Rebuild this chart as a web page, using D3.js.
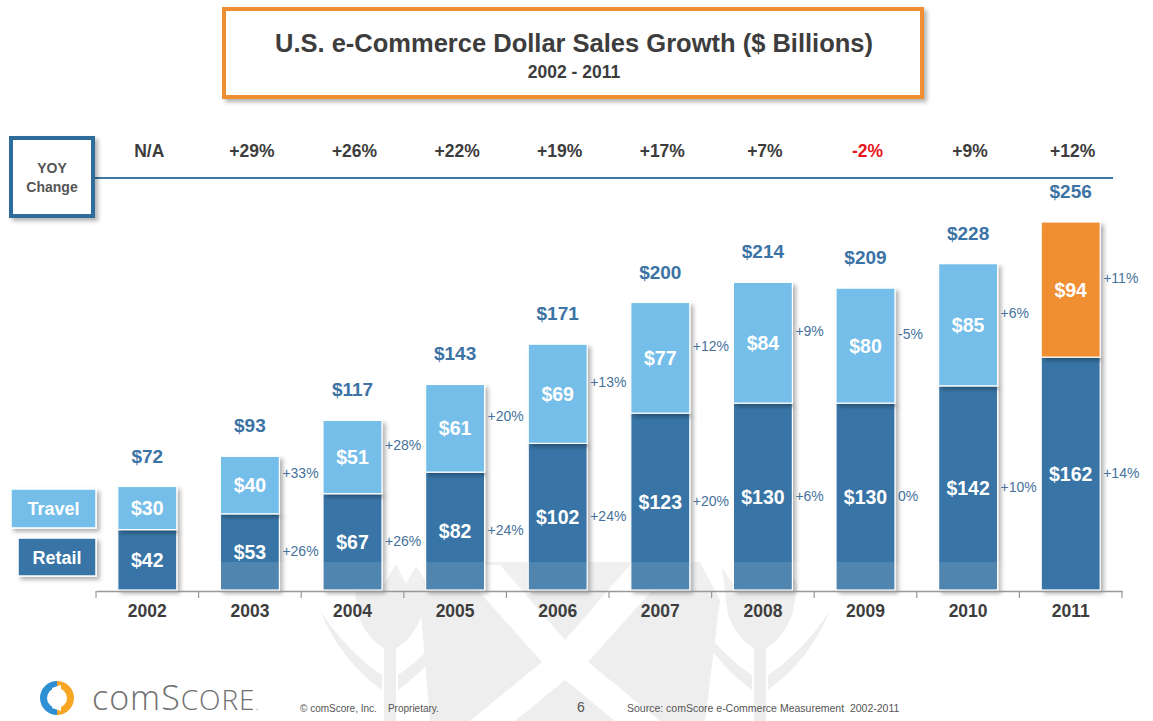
<!DOCTYPE html>
<html>
<head>
<meta charset="utf-8">
<script src="https://cdn.jsdelivr.net/npm/d3@7"></script>
<style>
  html, body { margin: 0; padding: 0; background: #fff; }
  svg { display: block; font-family: "Liberation Sans", Arial, sans-serif; }
</style>
</head>
<body>
<svg id="chart" width="1153" height="721"></svg>
<script>
// ---- data ----
const years = ["2002","2003","2004","2005","2006","2007","2008","2009","2010","2011"];
const retail = [42, 53, 67, 82, 102, 123, 130, 130, 142, 162];
const travel = [30, 40, 51, 61, 69, 77, 84, 80, 85, 94];
const totals = [72, 93, 117, 143, 171, 200, 214, 209, 228, 256];
const yoyChange = ["N/A","+29%","+26%","+22%","+19%","+17%","+7%","-2%","+9%","+12%"];
const travelGrowth = [null,"+33%","+28%","+20%","+13%","+12%","+9%","-5%","+6%","+11%"];
const retailGrowth = [null,"+26%","+26%","+24%","+24%","+20%","+6%","0%","+10%","+14%"];

const C = {
  retail: "#3875a6",
  travel: "#74bee9",
  latest: "#f08e33",
  total: "#3c73a5",
  pct: "#46719b",
  dark: "#3d3d3d",
  navy: "#2f6c9c"
};

const svg = d3.select("#chart");
const defs = svg.append("defs");
const shadow = defs.append("filter").attr("id", "shadow")
  .attr("x", "-20%").attr("y", "-20%").attr("width", "150%").attr("height", "150%");
shadow.append("feDropShadow").attr("dx", 3).attr("dy", 3).attr("stdDeviation", 2)
  .attr("flood-color", "#000").attr("flood-opacity", 0.3);

// ---- scales ----
const x = d3.scaleBand().domain(years).range([96, 1122])
  .paddingInner(0.425).paddingOuter(0.2125);
const y = d3.scaleLinear().domain([0, 256]).range([590, 222]);

// ---- watermark emblem (faint, behind the bars) ----
const wm = svg.append("g").attr("fill", "#eeeeee");
wm.append("path").attr("d",
  "M440,562 L700,562 L720,600 L705,721 L430,721 L420,600 Z");
// white cross inside the shield
svg.append("path").attr("fill", "#fff").attr("d",
  "M455,565 L500,565 L565,640 L630,565 L675,565 L588,662 L660,721 L615,721 L565,680 L515,721 L470,721 L542,662 Z");
// thistles on each side
[[390, 1], [760, -1]].forEach(([cx, s]) => {
  wm.append("path").attr("d",
    `M${cx - 38},568 L${cx - 26},585 L${cx - 16},566 L${cx - 6},584 L${cx + 6},564 L${cx + 16},584 L${cx + 26},566 L${cx + 38},585 ` +
    `L${cx + 32},615 Q${cx + 22},640 ${cx + 6},648 L${cx + 6},721 L${cx - 6},721 L${cx - 6},648 Q${cx - 22},640 ${cx - 32},615 Z`);
  wm.append("path").attr("d",
    `M${cx - 8},690 Q${cx - 50},660 ${cx - 70},610 Q${cx - 45},650 ${cx - 8},675 Z`);
  wm.append("path").attr("d",
    `M${cx + 8},690 Q${cx + 50},660 ${cx + 70},610 Q${cx + 45},650 ${cx + 8},675 Z`);
});

// ---- title box ----
svg.append("rect").attr("x", 224).attr("y", 9).attr("width", 698).attr("height", 88)
  .attr("fill", "#fff").attr("stroke", C.latest).attr("stroke-width", 4)
  .attr("filter", "url(#shadow)");
svg.append("text").attr("x", 574).attr("y", 52).attr("text-anchor", "middle")
  .attr("font-size", 25.5).attr("font-weight", "bold").attr("fill", C.dark)
  .text("U.S. e-Commerce Dollar Sales Growth ($ Billions)");
svg.append("text").attr("x", 574).attr("y", 78).attr("text-anchor", "middle")
  .attr("font-size", 17.5).attr("font-weight", "bold").attr("fill", C.dark)
  .text("2002 - 2011");

// ---- YOY row ----
svg.append("line").attr("x1", 93).attr("x2", 1113).attr("y1", 178).attr("y2", 178)
  .attr("stroke", "#3b78a8").attr("stroke-width", 2);
svg.append("rect").attr("x", 11).attr("y", 138).attr("width", 82).attr("height", 78)
  .attr("fill", "#fff").attr("stroke", C.navy).attr("stroke-width", 4)
  .attr("filter", "url(#shadow)");
svg.append("text").attr("x", 52).attr("y", 173).attr("text-anchor", "middle")
  .attr("font-size", 14).attr("font-weight", "bold").attr("fill", "#555").text("YOY");
svg.append("text").attr("x", 52).attr("y", 192).attr("text-anchor", "middle")
  .attr("font-size", 14).attr("font-weight", "bold").attr("fill", "#555").text("Change");
svg.append("g").selectAll("text").data(years).join("text")
  .attr("x", d => x(d) + x.bandwidth() / 2 + 2)
  .attr("y", 157).attr("text-anchor", "middle")
  .attr("font-size", 17.5).attr("font-weight", "bold")
  .attr("fill", (d, i) => yoyChange[i].startsWith("-") ? "#e8141b" : C.dark)
  .text((d, i) => yoyChange[i]);

// ---- stacked bars ----
const rows = years.map((yr, i) => ({ yr, i, retail: retail[i], travel: travel[i] }));
const stack = d3.stack().keys(["retail", "travel"])(rows);

const barG = svg.append("g");
stack.forEach(layer => {
  barG.append("g").selectAll("rect").data(layer).join("rect")
    .attr("x", d => x(d.data.yr))
    .attr("width", x.bandwidth())
    .attr("y", d => y(d[1]))
    .attr("height", d => y(d[0]) - y(d[1]))
    .attr("fill", d => layer.key === "retail" ? C.retail
      : (d.data.yr === "2011" ? C.latest : C.travel))
    .attr("stroke", "#fff").attr("stroke-width", 1.2)
    .attr("filter", "url(#shadow)");

  // value inside each segment
  barG.append("g").selectAll("text").data(layer).join("text")
    .attr("x", d => x(d.data.yr) + x.bandwidth() / 2)
    .attr("y", d => (y(d[0]) + y(d[1])) / 2 + 7)
    .attr("text-anchor", "middle").attr("font-size", 19.5).attr("font-weight", "bold")
    .attr("fill", "#fff")
    .text(d => "$" + d.data[layer.key]);

  // growth rate beside each segment
  const growth = layer.key === "retail" ? retailGrowth : travelGrowth;
  barG.append("g").selectAll("text").data(layer.filter(d => growth[d.data.i])).join("text")
    .attr("x", d => x(d.data.yr) + x.bandwidth() + 3)
    .attr("y", d => (y(d[0]) + y(d[1])) / 2 + (layer.key === "retail" ? 4 : -7))
    .attr("font-size", 14).attr("fill", C.pct)
    .text(d => growth[d.data.i]);
});

// soft emblem wash over the lower part of the bars
svg.append("path").attr("fill", "#fff").attr("opacity", 0.12).attr("d",
  "M200,562 L1020,562 L1020,590 L200,590 Z");

// totals above the bars
svg.append("g").selectAll("text").data(years).join("text")
  .attr("x", d => x(d) + x.bandwidth() / 2)
  .attr("y", (d, i) => y(retail[i] + travel[i]) - 24)
  .attr("text-anchor", "middle").attr("font-size", 19).attr("font-weight", "bold")
  .attr("fill", C.total)
  .text((d, i) => "$" + totals[i]);

// ---- category axis ----
const axis = svg.append("g").attr("transform", "translate(0,591)")
  .call(d3.axisBottom(x).tickSize(0).tickPadding(14));
axis.select(".domain").attr("stroke", "#999").attr("stroke-width", 1.5);
axis.selectAll(".tick text").attr("font-size", 17.5).attr("font-weight", "bold")
  .attr("fill", C.dark).attr("font-family", "Liberation Sans, Arial, sans-serif");
// separators between categories
const bounds = d3.range(years.length + 1).map(i => x.range()[0] + i * x.step());
axis.selectAll(".sep").data(bounds).join("line").attr("class", "sep")
  .attr("x1", d => d).attr("x2", d => d).attr("y1", 0).attr("y2", 7)
  .attr("stroke", "#999").attr("stroke-width", 1.2);

// ---- legend ----
const legend = [
  { label: "Travel", color: C.travel, x: 11, y: 489, w: 85, h: 39 },
  { label: "Retail", color: C.retail, x: 18, y: 538, w: 78, h: 38 }
];
const lg = svg.append("g").selectAll("g").data(legend).join("g");
lg.append("rect").attr("x", d => d.x).attr("y", d => d.y)
  .attr("width", d => d.w).attr("height", d => d.h)
  .attr("fill", d => d.color).attr("stroke", "#fff").attr("stroke-width", 1.5)
  .attr("filter", "url(#shadow)");
lg.append("text").attr("x", d => d.x + d.w / 2).attr("y", d => d.y + d.h / 2 + 6.5)
  .attr("text-anchor", "middle").attr("font-size", 18).attr("font-weight", "bold")
  .attr("fill", "#fff").text(d => d.label);

// ---- footer ----
const logo = svg.append("g").attr("transform", "translate(57,698)");
const arc = d3.arc().innerRadius(10).outerRadius(17);
logo.append("path").attr("d", arc({ startAngle: Math.PI, endAngle: 2 * Math.PI })).attr("fill", "#2f8fd3");
logo.append("path").attr("d", arc({ startAngle: 0, endAngle: Math.PI })).attr("fill", "#f6a623");
logo.append("path").attr("d", "M-5,-10 L4,-13 L4,13 L-5,10 Z").attr("fill", "#fff");

const brand = svg.append("text").attr("x", 92).attr("y", 710)
  .attr("fill", "#707070").attr("font-family", "'Open Sans', sans-serif").attr("font-weight", 300)
  .attr("letter-spacing", 1);
brand.append("tspan").attr("font-size", 34).text("com");
brand.append("tspan").attr("font-size", 34).text("S");
brand.append("tspan").attr("font-size", 28).text("CORE");
brand.append("tspan").attr("font-size", 13).text(".");

svg.append("text").attr("x", 300).attr("y", 712).attr("font-size", 10).attr("fill", "#555")
  .attr("xml:space", "preserve").text("© comScore, Inc.    Proprietary.");
svg.append("text").attr("x", 577).attr("y", 712).attr("font-size", 14).attr("fill", "#555").text("6");
svg.append("text").attr("x", 627).attr("y", 712).attr("font-size", 10.5).attr("fill", "#555")
  .attr("xml:space", "preserve").text("Source: comScore e-Commerce Measurement  2002-2011");
</script>
</body>
</html>
